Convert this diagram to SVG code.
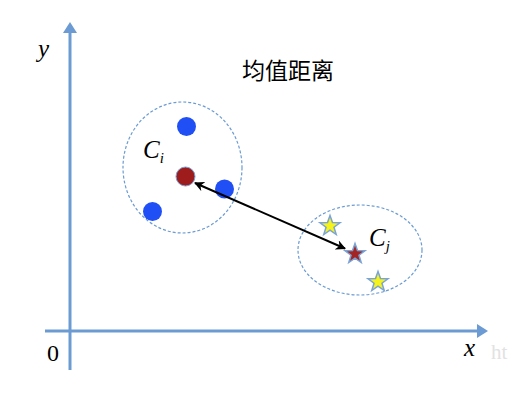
<svg xmlns="http://www.w3.org/2000/svg" width="516" height="401" viewBox="0 0 516 401">
<style>
.axis{stroke:#6b9bd2;stroke-width:3;fill:none}
.cl{fill:none;stroke:#6b9bd2;stroke-width:1.2;stroke-dasharray:3 2}
.blue{fill:#1f4ff5}
.math{font-family:"Liberation Serif",serif;font-style:italic;fill:#000}
.star{stroke:#7aa3d6;stroke-width:1.5}
</style>
<defs>
<marker id="ah" viewBox="0 0 10 10" refX="9" refY="5" markerWidth="5" markerHeight="5" orient="auto-start-reverse" markerUnits="strokeWidth">
<path d="M0,0 L10,5 L0,10 L3,5 z" fill="#000"/>
</marker>
<path id="st" d="M0,-10.5 L2.5,-3.4 L10,-3.2 L4,1.2 L6.2,8.5 L0,4.2 L-6.2,8.5 L-4,1.2 L-10,-3.2 L-2.5,-3.4 Z"/>
</defs>
<rect width="516" height="401" fill="#fff"/>
<g id="axes">
<line class="axis" x1="70" y1="31" x2="70" y2="370"/>
<polygon points="70,22 63,33 77,33" fill="#6b9bd2"/>
<line class="axis" x1="45" y1="331" x2="479" y2="331"/>
<polygon points="488,331 477,324 477,338" fill="#6b9bd2"/>
<text class="math" x="38" y="57" font-size="25">y</text>
<text class="math" x="464" y="356" font-size="25">x</text>
<text x="47" y="361" font-family="Liberation Serif,serif" font-size="24" fill="#000">0</text>
<text x="491" y="359" font-family="Liberation Serif,serif" font-size="21" fill="#e2e2e2">ht</text>
</g>
<text x="242" y="79" font-family="Noto Sans CJK SC,sans-serif" font-size="23" fill="#000">均值距离</text>
<g id="cluster-i">
<ellipse class="cl" cx="182.5" cy="167.5" rx="59.5" ry="65.5"/>
<circle class="blue" cx="186.5" cy="126.5" r="9.5"/>
<circle class="blue" cx="224.5" cy="189" r="9.5"/>
<circle class="blue" cx="152.5" cy="211.5" r="9.5"/>
<circle cx="185.5" cy="176.5" r="9.5" fill="#9e1c1c" stroke="#7aa3d6" stroke-width="1"/>
<text class="math" x="143" y="158" font-size="25">C<tspan font-size="15" dy="5">i</tspan></text>
</g>
<g id="cluster-j">
<ellipse class="cl" cx="360" cy="250" rx="62" ry="45"/>
<use href="#st" x="330" y="226" fill="#f5f31a" class="star"/>
<use href="#st" x="378" y="282" fill="#f5f31a" class="star"/>
<use href="#st" x="355" y="254" fill="#a32424" class="star"/>
<text class="math" x="369" y="246" font-size="25">C<tspan font-size="15" dy="5">j</tspan></text>
</g>
<g id="connectors">
<line x1="195" y1="183" x2="345" y2="248.5" stroke="#000" stroke-width="2" marker-start="url(#ah)" marker-end="url(#ah)"/>
</g>
</svg>
